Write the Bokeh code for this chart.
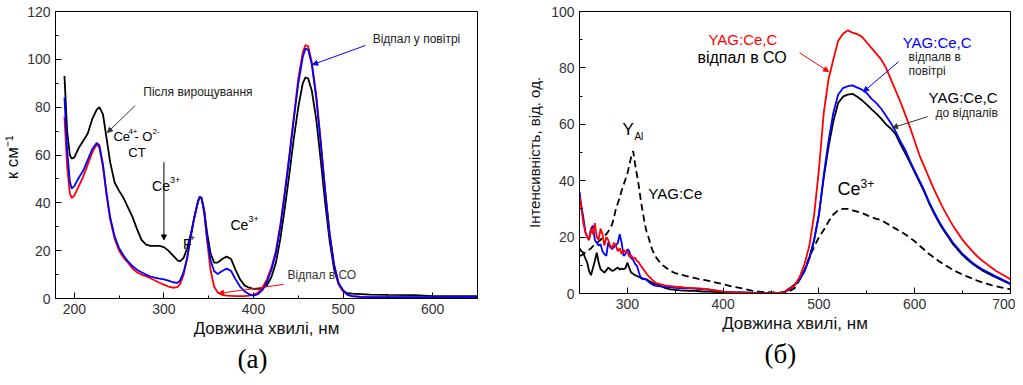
from bokeh.plotting import figure
from bokeh.models import Range1d, Label, Arrow, NormalHead, SingleIntervalTicker, Title
from bokeh.layouts import row
from bokeh.embed import file_html
from bokeh.resources import INLINE

# ---------------- panel (а): absorption ----------------
wl_a = [189, 192, 195, 197, 200, 205, 210, 215, 220, 225, 228, 232, 236, 240, 245,
        250, 255, 260, 265, 270, 275, 280, 285, 290, 295, 300, 305, 310, 315, 318,
        322, 326, 330, 334, 338, 340, 342, 345, 348, 352, 356, 360, 365, 370, 375,
        380, 385, 390, 395, 400, 405, 410, 415, 420, 425, 430, 435, 440, 445, 450,
        455, 458, 461, 465, 470, 475, 480, 485, 490, 495, 500, 505, 510, 520, 530,
        550, 580, 600, 620, 650]
k_grown = [93, 70, 60, 58.5, 59, 63, 66, 69, 75, 79, 80, 77, 67, 57, 48.5,
           45, 42, 38, 34, 29, 24.5, 22.5, 22, 22, 22, 21.5, 20, 18, 16, 15.5,
           17, 21, 27, 34, 40.5, 42.5, 42, 37, 28, 19, 15, 15, 16.5, 17.5, 16.5,
           12, 8, 5.5, 4.5, 4, 4, 4.2, 5.5, 9, 15, 25, 38, 52, 67, 80,
           90, 92.5, 92, 87, 75, 58, 40, 24, 12, 6, 3, 2.2, 2, 1.8, 1.6,
           1.5, 1.4, 1, 1, 1]
k_co = [76, 55, 44, 42, 43, 47, 51, 56, 61, 64.5, 63, 55, 43, 33, 25,
        20, 17, 15, 12.5, 11, 10, 9.3, 8.5, 7.5, 6.6, 5.8, 5, 4.5, 4.8, 6,
        10, 17, 26, 34, 40.5, 42.5, 42, 36, 25, 12, 5, 2.5, 1.5, 1.2, 1.1,
        1, 1, 1, 1.2, 1.5, 2.5, 4.5, 8, 13, 20, 31, 45, 60, 76, 92,
        103, 106, 105.5, 99, 85, 66, 45, 27, 14, 6, 3, 1.5, 1, 0.7, 0.5,
        0.5, 0.5, 0.5, 0.5, 0.5]
k_air = [84, 62, 49, 46, 47, 50.5, 53.5, 58, 62.5, 65, 64, 56, 44, 34, 26,
         21, 18, 15.5, 13.5, 12, 11, 10, 9.2, 8.7, 8.3, 8, 7.5, 6.8, 6.5, 7.5,
         11, 17, 26, 34, 40.5, 42.5, 42, 36, 26, 16, 11.5, 10.2, 11.5, 12.5, 11.5,
         8, 5, 3, 1.8, 1.2, 1.8, 3.5, 7, 12, 19, 30, 44, 59, 75, 90,
         101, 104.5, 104, 98, 84, 65, 45, 27, 14, 6.5, 3.5, 1.5, 1, 0.7, 0.6,
         0.6, 0.6, 0.6, 0.6, 0.6]

# ---------------- panel (б): luminescence ----------------
wl_b = [250, 252, 254, 256, 258, 260, 262, 264, 266, 268,
        270, 272, 274, 276, 278, 280, 282, 284, 286, 288,
        290, 292, 294, 296, 298, 300, 302, 304, 306, 308,
        310, 312, 314, 316, 318, 320, 322, 324, 326, 328,
        330, 335, 340, 345, 350, 355, 360, 365, 370, 375,
        380, 385, 390, 395, 400, 410, 420, 430, 440, 450,
        460, 465, 470, 475, 480, 485, 490, 495, 500, 505,
        510, 515, 520, 525, 530, 535, 540, 545, 550, 555,
        560, 565, 570, 575, 580, 585, 590, 595, 600, 605,
        610, 615, 620, 625, 630, 635, 640, 645, 650, 655,
        660, 665, 670, 675, 680, 685, 690, 695, 700]
i_co = [35, 30, 25, 22, 20, 19, 23, 21, 25, 20,
        19, 23, 21, 17, 20, 19, 17, 16, 18, 17,
        15, 16, 14, 15.5, 14.5, 15, 13, 13.5, 12.5, 12.7,
        11.5, 11, 9.8, 9, 8, 7, 6.2, 5.5, 4.8, 4.2,
        3.7, 3.2, 2.8, 2.6, 2.4, 2.3, 2.1, 2.0, 1.9, 1.8,
        1.6, 1.5, 1.2, 0.9, 0.6, 0.4, 0.3, 0.2, 0.1, 0.1,
        0.3, 0.8, 1.8, 3, 6, 10.5, 17, 28, 44, 64,
        76, 83, 89.5, 92, 93.3, 92.5, 92, 91, 89, 87,
        85, 83, 80, 76, 72, 68, 63.5, 59, 54, 49,
        45, 41, 37, 33.5, 30, 27, 24, 21.5, 19, 17,
        15, 13.3, 11.8, 10.5, 9.2, 8, 7, 6, 5]
i_air = [36, 31, 27, 22, 20, 19, 23, 24, 19, 18,
         17, 17.5, 15, 14, 13.3, 18, 16.5, 15.7, 16.5, 17,
         18, 21, 18, 13.3, 14, 15.7, 15, 12.5, 12, 10.5,
         9.8, 7.5, 5.5, 5, 5.2, 4.8, 4.2, 3.6, 3.2, 2.9,
         2.7, 2.5, 2.3, 2.2, 2, 1.9, 1.8, 1.8, 1.7, 1.6,
         1.5, 1.4, 1.1, 0.9, 0.7, 0.5, 0.4, 0.3, 0.2, 0.1,
         0.2, 0.6, 1.5, 3, 5, 8, 12.5, 19, 28, 42,
         54, 64, 70.5, 72.8, 73.5, 73.8, 73, 72.3, 71, 69,
         67.5, 65.5, 63, 60.5, 57.5, 54, 51, 47, 43.5, 40,
         36.5, 32.5, 29, 25.8, 23, 20.5, 18, 16, 14, 12.5,
         11, 9.8, 8.7, 7.8, 6.9, 6, 5.2, 4.3, 3.4]
i_before = [16, 15, 14.5, 12.5, 11, 8, 6.5, 9, 11.5, 14.5,
            11, 8.6, 8, 7.4, 8.2, 9.2, 8.6, 8, 8.2, 8.8,
            9.2, 8.5, 8.8, 8.6, 9, 11, 9, 7.4, 7, 6.5,
            6.2, 5.9, 5.6, 5.4, 5.2, 5, 4.6, 4.2, 3.8, 3.5,
            3.3, 2.6, 1.9, 1.5, 1.3, 1.1, 1, 0.9, 0.9, 0.8,
            0.7, 0.7, 0.6, 0.5, 0.5, 0.4, 0.3, 0.2, 0.2, 0.1,
            0.3, 0.8, 2, 3.3, 5, 8, 12.5, 19, 28, 41,
            52, 61, 67.5, 69.8, 70.5, 70.8, 69.8, 68.5, 67, 65.3,
            63.8, 62, 60, 58.5, 56.5, 53, 49.8, 46.5, 43, 39.5,
            36, 32, 28.5, 25.3, 22.5, 20, 17.5, 15.5, 13.6, 12,
            10.6, 9.4, 8.3, 7.4, 6.5, 5.7, 4.9, 4.1, 3.3]
i_yagce = [13.3, 13.5, 14, 14.5, 15, 15.5, 16, 16.8, 17.3, 17.8,
           18.5, 19, 19.8, 20.5, 21, 22, 23, 24.5, 27, 30,
           32, 34, 36.5, 38.5, 40.5, 42.5, 45.5, 48.5, 50.5, 46,
           42, 38, 33, 29, 25, 22, 20, 17.5, 15.5, 14,
           12.8, 10.5, 9.2, 8, 7.2, 6.8, 6.3, 5.9, 5.5, 5.1,
           4.8, 4.5, 4.1, 3.7, 3.3, 2.4, 1.8, 1, 0.6, 0.4,
           0.3, 0.3, 1, 2, 5, 8.5, 13, 16.5, 20, 22.5,
           25.5, 28, 29.5, 30, 30, 29.5, 29, 28.5, 27.8, 27,
           26.5, 26, 25, 24, 23, 22, 21, 19.8, 18.5, 17,
           15.5, 14, 12.8, 11.5, 10.4, 9.4, 8.4, 7.5, 6.7, 6,
           5.3, 4.6, 4, 3.5, 3, 2.6, 2.2, 1.8, 1.5]

FONT = "Liberation Sans"
RED, BLUE, BLACK = "#ff0000", "#0000ff", "#000000"


def style(p, xint, yint):
    for ax in (p.xaxis[0], p.yaxis[0]):
        ax.major_tick_in = 6
        ax.major_tick_out = 0
        ax.minor_tick_in = 3
        ax.minor_tick_out = 0
        ax.axis_line_color = "black"
        ax.major_tick_line_color = "black"
        ax.minor_tick_line_color = "black"
        ax.major_label_text_font = FONT
        ax.major_label_text_font_size = "14px"
        ax.major_label_text_color = "#333333"
        ax.major_label_standoff = 5
        ax.axis_label_text_font = FONT
        ax.axis_label_text_font_style = "normal"
        ax.axis_label_text_font_size = "17px"
        ax.axis_label_text_color = "#111111"
        ax.axis_label_standoff = 2
    p.xaxis.ticker = SingleIntervalTicker(interval=xint, num_minor_ticks=2)
    p.yaxis.ticker = SingleIntervalTicker(interval=yint, num_minor_ticks=2)
    p.xgrid.visible = False
    p.ygrid.visible = False
    p.outline_line_color = "black"
    p.outline_line_alpha = 1


def lab(p, x, y, s, size, color=BLACK, dx=0, dy=0, font=FONT, align="left"):
    p.add_layout(Label(x=x, y=y, text=s, x_offset=dx, y_offset=dy, text_font=font,
                       text_font_size=f"{size}px", text_color=color,
                       text_align=align, text_baseline="middle"))


def arrow(p, x0, y0, x1, y1, color, size=6):
    p.add_layout(Arrow(end=NormalHead(size=size, line_color=color, fill_color=color, line_width=1),
                       x_start=x0, y_start=y0, x_end=x1, y_end=y1,
                       line_color=color, line_width=1))


def caption(p, s, offset):
    p.add_layout(Title(text=s, align="left", offset=offset, standoff=2,
                       text_font="Liberation Serif", text_font_size="27px",
                       text_font_style="normal", text_color="black"), "below")


# ---------- left figure ----------
pa = figure(frame_width=422, frame_height=287, x_range=Range1d(179, 650), y_range=Range1d(0, 120),
            min_border_left=47, min_border_right=33, min_border_top=11, min_border_bottom=70,
            output_backend="svg", toolbar_location=None,
            x_axis_label="Довжина хвилі, нм", y_axis_label="к  см⁻¹")
style(pa, 100, 20)
pa.line(wl_a, k_grown, color=BLACK, line_width=1.8)
pa.line(wl_a, k_co, color=RED, line_width=1.8)
pa.line(wl_a, k_air, color=BLUE, line_width=1.8)

lab(pa, 277, 86.5, "Після вирощування", 12, "#222222")
arrow(pa, 268, 80.7, 237, 69.4, "#333333", 5)
lab(pa, 243.6, 67.7, "Ce", 13)
lab(pa, 243.6, 67.7, "4+", 8, dx=15, dy=5)
lab(pa, 243.6, 67.7, "- O", 13, dx=21)
lab(pa, 243.6, 67.7, "2-", 8, dx=39, dy=5)
lab(pa, 260.3, 61.1, "CT", 13)
lab(pa, 286.8, 47, "Ce", 14)
lab(pa, 286.8, 47, "3+", 9, dx=18, dy=6)
arrow(pa, 300, 57, 300, 24.5, BLACK, 5)
lab(pa, 321.4, 22.6, "F", 14)
lab(pa, 321.4, 22.6, "+", 9, dx=7, dy=6)
lab(pa, 374.3, 30.9, "Ce", 14)
lab(pa, 374.3, 30.9, "3+", 9, dx=18, dy=6)
lab(pa, 438, 10, "Відпал в СО", 12, "#333333")
arrow(pa, 433.5, 5.9, 361, 2.1, RED, 5)
lab(pa, 533, 108.7, "Відпал у повітрі", 12, "#222222")
arrow(pa, 525, 105.8, 466, 97.8, BLUE, 5)
caption(pa, "(а)", 182)

# ---------- right figure ----------
pb = figure(frame_width=431, frame_height=282, x_range=Range1d(250, 700), y_range=Range1d(0, 100),
            min_border_left=69, min_border_right=5, min_border_top=11, min_border_bottom=75,
            output_backend="svg", toolbar_location=None,
            x_axis_label="Довжина хвилі, нм", y_axis_label="Інтенсивність, від. од.")
style(pb, 100, 20)
pb.yaxis.axis_label_text_font_size = "15px"
pb.yaxis.axis_label_standoff = 5
pb.line(wl_b, i_yagce, color=BLACK, line_width=1.8, line_dash="7 4")
pb.line(wl_b, i_before, color=BLACK, line_width=1.8)
pb.line(wl_b, i_air, color=BLUE, line_width=1.8)
pb.line(wl_b, i_co, color=RED, line_width=1.8)

lab(pb, 384.6, 90, "YAG:Ce,C", 15, RED)
lab(pb, 373.1, 83.6, "відпал в СО", 16)
arrow(pb, 479.7, 85.4, 510, 78.7, RED, 5)
lab(pb, 587.4, 88.9, "YAG:Ce,C", 15, BLUE)
lab(pb, 593.6, 84.0, "відпалв в", 12, "#222222")
lab(pb, 593.6, 79.0, "повітрі", 12, "#222222")
arrow(pb, 583.2, 82.2, 546.6, 71.6, BLUE, 5)
lab(pb, 614.5, 69.5, "YAG:Ce,C", 15)
lab(pb, 621.8, 64.1, "до відпалів", 12, "#222222")
arrow(pb, 613.5, 62.7, 576.9, 58.8, "#333333", 5)
lab(pb, 294.8, 58.1, "Y", 17)
lab(pb, 294.8, 58.1, "Al", 10, dx=12, dy=-7)
lab(pb, 321.9, 35.5, "YAG:Ce", 15)
lab(pb, 519.4, 36.9, "Ce", 18)
lab(pb, 519.4, 36.9, "3+", 12, dx=23, dy=6)
caption(pb, "(б)", 185)

layout = row(pa, pb)
open("out.html", "w").write(file_html(layout, INLINE))
